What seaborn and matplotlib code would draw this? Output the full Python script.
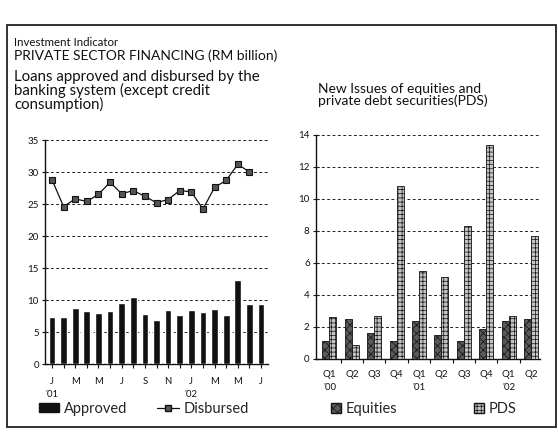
import matplotlib
matplotlib.use("Agg")
import matplotlib.pyplot as plt
import matplotlib.patches as mpatches
from matplotlib.lines import Line2D
import numpy as np
import pandas as pd
import seaborn as sns

# ---------------- data ----------------
months = ["Jan01", "Feb01", "Mar01", "Apr01", "May01", "Jun01", "Jul01", "Aug01",
          "Sep01", "Oct01", "Nov01", "Dec01", "Jan02", "Feb02", "Mar02", "Apr02",
          "May02", "Jun02", "Jul02"]
approved = [7.4, 7.3, 8.8, 8.3, 7.9, 8.3, 9.6, 10.4, 7.8, 6.9, 8.5, 7.7,
            8.4, 8.1, 8.6, 7.7, 13.1, 9.3, 9.4]
disbursed = [28.8, 24.6, 25.8, 25.4, 26.5, 28.4, 26.6, 27.1, 26.2, 25.2, 25.7, 27.1,
             26.9, 24.2, 27.6, 28.7, 31.2, 30.0]
month_labels = ["J\n'01", "", "M", "", "M", "", "J", "", "S", "", "N", "",
                "J\n'02", "", "M", "", "M", "", "J"]

quarters = ["Q1\n'00", "Q2", "Q3", "Q4", "Q1\n'01", "Q2", "Q3", "Q4", "Q1\n'02", "Q2"]
equities = [1.1, 2.5, 1.6, 1.1, 2.4, 1.5, 1.1, 1.9, 2.4, 2.5]
pds = [2.6, 0.9, 2.7, 10.8, 5.5, 5.1, 8.3, 13.4, 2.7, 7.7]

sns.set_theme(style="white")
plt.rcParams["font.family"] = ["Lato", "DejaVu Sans"]
plt.rcParams["hatch.linewidth"] = 0.5

W, H = 558, 433
fig = plt.figure(figsize=(W / 100, H / 100), dpi=100)
fig.patch.set_facecolor("white")


def fx(px):
    return px / W


def fy(py):
    return 1 - py / H


# border
fig.patches.append(mpatches.Rectangle((fx(7), fy(427)), fx(549), 402 / H,
                                      transform=fig.transFigure, fill=False,
                                      edgecolor="#222222", lw=1.3))

# titles
fig.text(fx(14), fy(46), "Investment Indicator", fontsize=8.3, color="#111111", va="baseline")
fig.text(fx(14), fy(60), "PRIVATE SECTOR FINANCING (RM billion)", fontsize=10,
         color="#111111", va="baseline")
fig.text(fx(14), fy(109), "Loans approved and disbursed by the\nbanking system (except credit\nconsumption)",
         fontsize=10.8, color="#111111", va="baseline", linespacing=0.93)
fig.text(fx(318), fy(105), "New Issues of equities and\nprivate debt securities(PDS)",
         fontsize=10, color="#111111", va="baseline", linespacing=0.95)

grid_kw = dict(color="#222222", lw=0.7, ls=(0, (3, 2.5)))

# ---------------- left chart ----------------
axL = fig.add_axes([fx(45), fy(364), fx(223), 224 / H])
dfL = pd.DataFrame({"month": months, "approved": approved})
sns.barplot(data=dfL, x="month", y="approved", ax=axL, color="#111111",
            width=0.58, saturation=1, zorder=3)
xd = np.arange(len(disbursed))
sns.lineplot(x=xd, y=disbursed, ax=axL, color="#111111", lw=0.9, marker="s",
             markersize=4.2, markerfacecolor="#555555", markeredgecolor="#111111",
             markeredgewidth=0.8, zorder=4)
axL.set_xlim(-0.6, len(months) - 0.4)
axL.set_ylim(0, 35)
axL.set_yticks(np.arange(0, 36, 5))
for v in np.arange(5, 36, 5):
    axL.axhline(v, zorder=1, **grid_kw)
axL.set_xticks(np.arange(len(months)))
axL.set_xticklabels(month_labels, fontsize=6.8, linespacing=1.6)
axL.set_xlabel("")
axL.set_ylabel("")

# ---------------- right chart ----------------
axR = fig.add_axes([fx(316), fy(359), fx(224), 224 / H])
dfR = pd.DataFrame({
    "quarter": list(range(len(quarters))) * 2,
    "series": ["Equities"] * len(equities) + ["PDS"] * len(pds),
    "value": equities + pds,
})
sns.barplot(data=dfR, x="quarter", y="value", hue="series", ax=axR,
            palette={"Equities": "#5a5a5a", "PDS": "#c4c4c4"},
            width=0.62, saturation=1, edgecolor="#111111", linewidth=0.6,
            zorder=3, legend=False)
for bar in axR.patches:
    fc = bar.get_facecolor()
    bar.set_hatch("xxxx" if fc[0] < 0.5 else "++++")
axR.set_xlim(-0.6, len(quarters) - 0.6)
axR.set_ylim(0, 14)
axR.set_yticks(np.arange(0, 15, 2))
for v in np.arange(2, 15, 2):
    axR.axhline(v, zorder=1, **grid_kw)
axR.set_xticks(np.arange(len(quarters)))
axR.set_xticklabels(quarters, fontsize=7, linespacing=1.6)
axR.set_xticks(np.arange(len(quarters) - 1) + 0.5, minor=True)
axR.set_xlabel("")
axR.set_ylabel("")

for ax in (axL, axR):
    for s in ("top", "right"):
        ax.spines[s].set_visible(False)
    for s in ("left", "bottom"):
        ax.spines[s].set_color("#111111")
        ax.spines[s].set_linewidth(1.0)
    ax.set_facecolor("none")
    ax.tick_params(axis="y", which="major", direction="inout", length=5, width=0.8,
                   labelsize=7, colors="#111111", pad=2, left=True)
    ax.tick_params(axis="x", which="both", labelcolor="#111111", colors="#111111")
axL.tick_params(axis="x", which="major", direction="out", length=3, width=0.8, pad=6, bottom=True)
axR.tick_params(axis="x", which="major", length=0, pad=8)
axR.tick_params(axis="x", which="minor", direction="out", length=3, width=0.8, bottom=True)

# legends (one entry each so that each can be placed)
leg_kw = dict(loc="center left", frameon=False, fontsize=10.5, handletextpad=0.3,
              borderaxespad=0, borderpad=0)
LY = fy(409)
fig.legend(handles=[mpatches.Patch(facecolor="#111111", edgecolor="#111111", label="Approved")],
           bbox_to_anchor=(fx(39), LY), handlelength=1.4, handleheight=0.6, **leg_kw)
fig.legend(handles=[Line2D([], [], color="#111111", lw=0.9, marker="s", markersize=4,
                           markerfacecolor="#555555", label="Disbursed")],
           bbox_to_anchor=(fx(157), LY), handlelength=1.5, **leg_kw)
fig.legend(handles=[mpatches.Patch(facecolor="#5a5a5a", edgecolor="#111111", hatch="xxxx",
                                   label="Equities")],
           bbox_to_anchor=(fx(331), LY), handlelength=0.7, handleheight=0.7, **leg_kw)
fig.legend(handles=[mpatches.Patch(facecolor="#c4c4c4", edgecolor="#111111", hatch="++++",
                                   label="PDS")],
           bbox_to_anchor=(fx(474), LY), handlelength=0.7, handleheight=0.7, **leg_kw)

fig.savefig("out.png", dpi=100, facecolor="white")
